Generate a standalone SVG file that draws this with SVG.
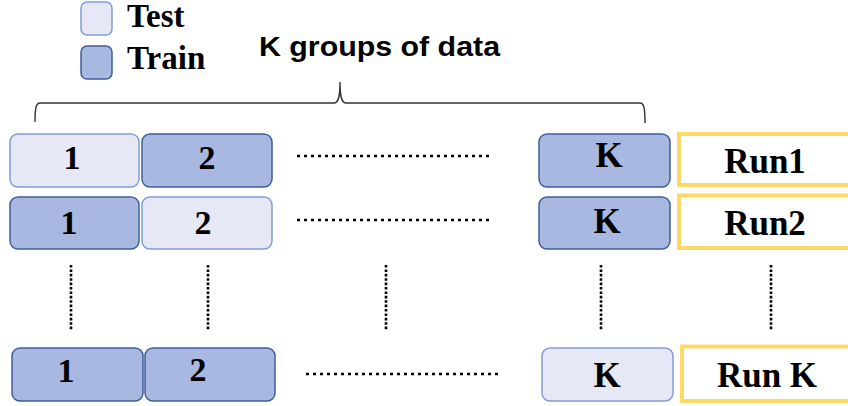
<svg xmlns="http://www.w3.org/2000/svg" width="848" height="406" viewBox="0 0 848 406">
  <style>
    .test { fill: #e6e9f5; stroke: #7f9dd4; stroke-width: 1.5; }
    .train { fill: #a9b8e0; stroke: #3d5f9b; stroke-width: 1.5; }
    .run { fill: #ffffff; stroke: #ffd966; stroke-width: 4; }
    .lbl { font-family: "Liberation Serif", "Times New Roman", serif; font-weight: bold; fill: #000; text-anchor: middle; }
    .num { font-size: 34px; }
    .big { font-size: 35px; }
    .legend { font-family: "Liberation Serif", "Times New Roman", serif; font-weight: bold; font-size: 33px; fill: #000; }
    .title { font-family: "Liberation Sans", Arial, sans-serif; font-weight: bold; font-size: 27px; fill: #000; }
    .hdots { fill: none; stroke: #000; stroke-width: 2.6; stroke-dasharray: 3 4; }
    .vdots { fill: none; stroke: #000; stroke-width: 2.6; stroke-dasharray: 2.6 1.8; }
    .brace { fill: none; stroke: #333; stroke-width: 1.4; }
  </style>

  <!-- legend -->
  <g id="legend">
    <rect class="test" x="81" y="2" width="31" height="33" rx="6"/>
    <text class="legend" x="127" y="27">Test</text>
    <rect class="train" x="81" y="46" width="31" height="33" rx="6"/>
    <text class="legend" x="127" y="69">Train</text>
  </g>

  <!-- brace over the K groups -->
  <g id="brace">
    <text class="title" x="259" y="56" textLength="241" lengthAdjust="spacingAndGlyphs">K groups of data</text>
    <path class="brace" d="M35,122 C35,108 36,103 40,103 L334,103 C338,103 340,98 340,82 C340,98 342,103 346,103 L640,103 C644,103 645,108 645,123"/>
  </g>

  <!-- row 1 -->
  <g id="r1-g1"><rect class="test" x="10" y="134" width="129" height="53" rx="8"/><text class="lbl num" x="72" y="169">1</text></g>
  <g id="r1-g2"><rect class="train" x="142" y="134" width="130" height="53" rx="8"/><text class="lbl num" x="207" y="169">2</text></g>
  <g id="r1-gk"><rect class="train" x="539" y="134" width="131" height="53" rx="8"/><text class="lbl big" x="609" y="167">K</text></g>
  <g id="run1"><rect class="run" x="679" y="134" width="200" height="51"/><text class="lbl big" x="765" y="173">Run1</text></g>

  <!-- row 2 -->
  <g id="r2-g1"><rect class="train" x="10" y="197" width="129" height="52" rx="8"/><text class="lbl num" x="69" y="234">1</text></g>
  <g id="r2-g2"><rect class="test" x="142" y="197" width="130" height="52" rx="8"/><text class="lbl num" x="203" y="234">2</text></g>
  <g id="r2-gk"><rect class="train" x="539" y="197" width="131" height="52" rx="8"/><text class="lbl big" x="607" y="233">K</text></g>
  <g id="run2"><rect class="run" x="679" y="195.5" width="200" height="52.5"/><text class="lbl big" x="765" y="235">Run2</text></g>

  <!-- row K -->
  <g id="rk-g1"><rect class="train" x="12" y="348" width="131" height="53" rx="8"/><text class="lbl num" x="66" y="382">1</text></g>
  <g id="rk-g2"><rect class="train" x="145" y="348" width="130" height="53" rx="8"/><text class="lbl num" x="198" y="381">2</text></g>
  <g id="rk-gk"><rect class="test" x="542" y="348" width="131" height="53" rx="8"/><text class="lbl big" x="607" y="387">K</text></g>
  <g id="runk"><rect class="run" x="682" y="346.5" width="200" height="54.5"/><text class="lbl big" x="767" y="387">Run K</text></g>

  <!-- ellipsis connectors -->
  <g id="connectors">
    <line class="hdots" x1="297" y1="156" x2="492" y2="156"/>
    <line class="hdots" x1="297" y1="220" x2="492" y2="220"/>
    <line class="hdots" x1="306" y1="374" x2="500" y2="374"/>
    <line class="vdots" x1="71" y1="265" x2="71" y2="330"/>
    <line class="vdots" x1="208" y1="265" x2="208" y2="330"/>
    <line class="vdots" x1="386" y1="265" x2="386" y2="330"/>
    <line class="vdots" x1="601" y1="265" x2="601" y2="330"/>
    <line class="vdots" x1="771" y1="265" x2="771" y2="330"/>
  </g>
</svg>
